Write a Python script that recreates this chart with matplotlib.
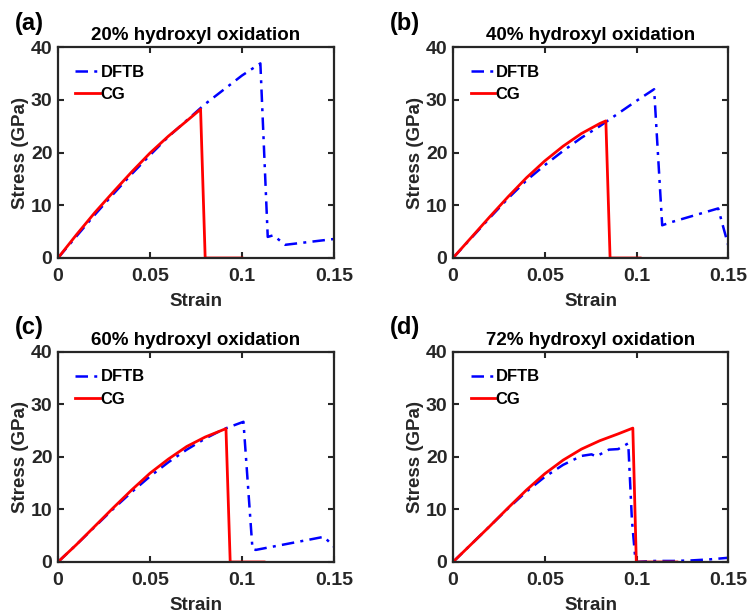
import matplotlib
matplotlib.use("Agg")
import matplotlib.pyplot as plt

plt.rcParams['font.family'] = ['Liberation Sans', 'DejaVu Sans']
plt.rcParams['font.weight'] = 'bold'

titles = ['20% hydroxyl oxidation', '40% hydroxyl oxidation',
          '60% hydroxyl oxidation', '72% hydroxyl oxidation']
panel_tags = ['(a)', '(b)', '(c)', '(d)']

# DFTB curves (strain, stress in GPa)
dftb_x_a = [0, 0.01, 0.02, 0.03, 0.04, 0.05, 0.06, 0.07, 0.08, 0.09, 0.10, 0.110,
            0.114, 0.117, 0.1235, 0.150]
dftb_y_a = [0, 4.1, 8.2, 12.1, 15.9, 19.5, 23.0, 26.1, 29.2, 31.9, 34.6, 36.9,
            4.0, 4.3, 2.5, 3.6]
dftb_x_b = [0, 0.01, 0.02, 0.03, 0.04, 0.05, 0.06, 0.07, 0.08, 0.09, 0.10, 0.1096,
            0.114, 0.119, 0.1445, 0.150]
dftb_y_b = [0, 3.8, 7.6, 11.3, 14.7, 17.6, 20.3, 22.8, 25.0, 27.4, 29.8, 32.0,
            6.2, 6.8, 9.4, 2.4]
dftb_x_c = [0, 0.01, 0.02, 0.03, 0.04, 0.05, 0.06, 0.07, 0.08, 0.09, 0.1008,
            0.1057, 0.1075, 0.1365, 0.1446, 0.150]
dftb_y_c = [0, 3.3, 6.7, 10.1, 13.3, 16.3, 19.0, 21.4, 23.5, 25.3, 26.7,
            2.5, 2.3, 4.25, 4.8, 2.9]
dftb_x_d = [0, 0.01, 0.02, 0.03, 0.04, 0.05, 0.06, 0.07, 0.0755, 0.078, 0.085,
            0.09, 0.0955, 0.0975, 0.0995, 0.11, 0.12, 0.13, 0.14, 0.15]
dftb_y_d = [0, 3.4, 6.8, 10.2, 13.4, 16.2, 18.5, 20.2, 20.5, 20.1, 21.4,
            21.5, 22.6, 8.0, 0, 0.2, 0.2, 0.3, 0.5, 0.8]

# CG curves
cg_x_a = [0, 0.01, 0.02, 0.03, 0.04, 0.05, 0.06, 0.07, 0.0775, 0.080, 0.100]
cg_y_a = [0, 4.4, 8.6, 12.5, 16.3, 19.9, 23.1, 26.0, 28.2, 0, 0]
cg_x_b = [0, 0.01, 0.02, 0.03, 0.04, 0.05, 0.06, 0.07, 0.08, 0.0833, 0.0856, 0.102]
cg_y_b = [0, 3.9, 7.8, 11.6, 15.2, 18.4, 21.2, 23.6, 25.5, 26.0, 0, 0]
cg_x_c = [0, 0.01, 0.02, 0.03, 0.04, 0.05, 0.06, 0.07, 0.08, 0.0913, 0.0936, 0.112]
cg_y_c = [0, 3.3, 6.8, 10.3, 13.7, 16.9, 19.6, 22.0, 23.8, 25.4, 0, 0]
cg_x_d = [0, 0.01, 0.02, 0.03, 0.04, 0.05, 0.06, 0.07, 0.08, 0.09, 0.098, 0.0999, 0.122]
cg_y_d = [0, 3.4, 6.8, 10.3, 13.7, 16.8, 19.4, 21.5, 23.1, 24.4, 25.5, 0, 0]

dftb_x = [dftb_x_a, dftb_x_b, dftb_x_c, dftb_x_d]
dftb_y = [dftb_y_a, dftb_y_b, dftb_y_c, dftb_y_d]
cg_x = [cg_x_a, cg_x_b, cg_x_c, cg_x_d]
cg_y = [cg_y_a, cg_y_b, cg_y_c, cg_y_d]

x_ticks = [0, 0.05, 0.1, 0.15]
x_tick_labels = ['0', '0.05', '0.1', '0.15']
y_ticks = [0, 10, 20, 30, 40]

fig = plt.figure(figsize=(7.5, 6.15), dpi=100)
axc = '#262626'

# axes rectangles [left, bottom, width, height]
rects = [[0.0773, 0.5805, 0.368, 0.343],
         [0.604, 0.5805, 0.367, 0.343],
         [0.0773, 0.0862, 0.368, 0.3415],
         [0.604, 0.0862, 0.367, 0.3415]]
tag_pos = [(0.02, 0.961), (0.52, 0.961), (0.02, 0.467), (0.52, 0.467)]

for i in range(4):
    ax = fig.add_axes(rects[i])
    ax.plot(dftb_x[i], dftb_y[i], color='blue', ls=(0, (5, 2.5, 1.2, 2.5)), lw=1.8,
            label='DFTB')
    ax.plot(cg_x[i], cg_y[i], color='red', ls='-', lw=2.0, label='CG')
    ax.set_xlim(0, 0.15)
    ax.set_ylim(0, 40)
    ax.set_xticks(x_ticks)
    ax.set_xticklabels(x_tick_labels)
    ax.set_yticks(y_ticks)
    ax.tick_params(direction='in', top=True, right=True, length=4.5, width=1.5,
                   colors=axc, labelsize=14)
    ax.tick_params(axis='x', pad=7)
    ax.tick_params(axis='y', pad=4)
    for lab in ax.get_xticklabels() + ax.get_yticklabels():
        lab.set_fontweight('bold')
    for s in ax.spines.values():
        s.set_linewidth(1.6)
        s.set_color(axc)
    ax.set_xlabel('Strain', fontsize=13.5, fontweight='bold', color=axc, labelpad=6)
    ax.set_ylabel('Stress (GPa)', fontsize=13.5, fontweight='bold', color=axc, labelpad=1)
    ax.set_title(titles[i], fontsize=13.5, fontweight='bold', pad=5)
    ax.legend(loc='upper left', frameon=False, handlelength=1.45,
              handletextpad=0.05, labelspacing=0.45, borderaxespad=0.6,
              borderpad=0.45, prop={'weight': 'bold', 'size': 12})
    fig.text(tag_pos[i][0], tag_pos[i][1], panel_tags[i], fontsize=17,
             fontweight='bold', va='center', ha='left')

fig.savefig('out.png', dpi=100)
